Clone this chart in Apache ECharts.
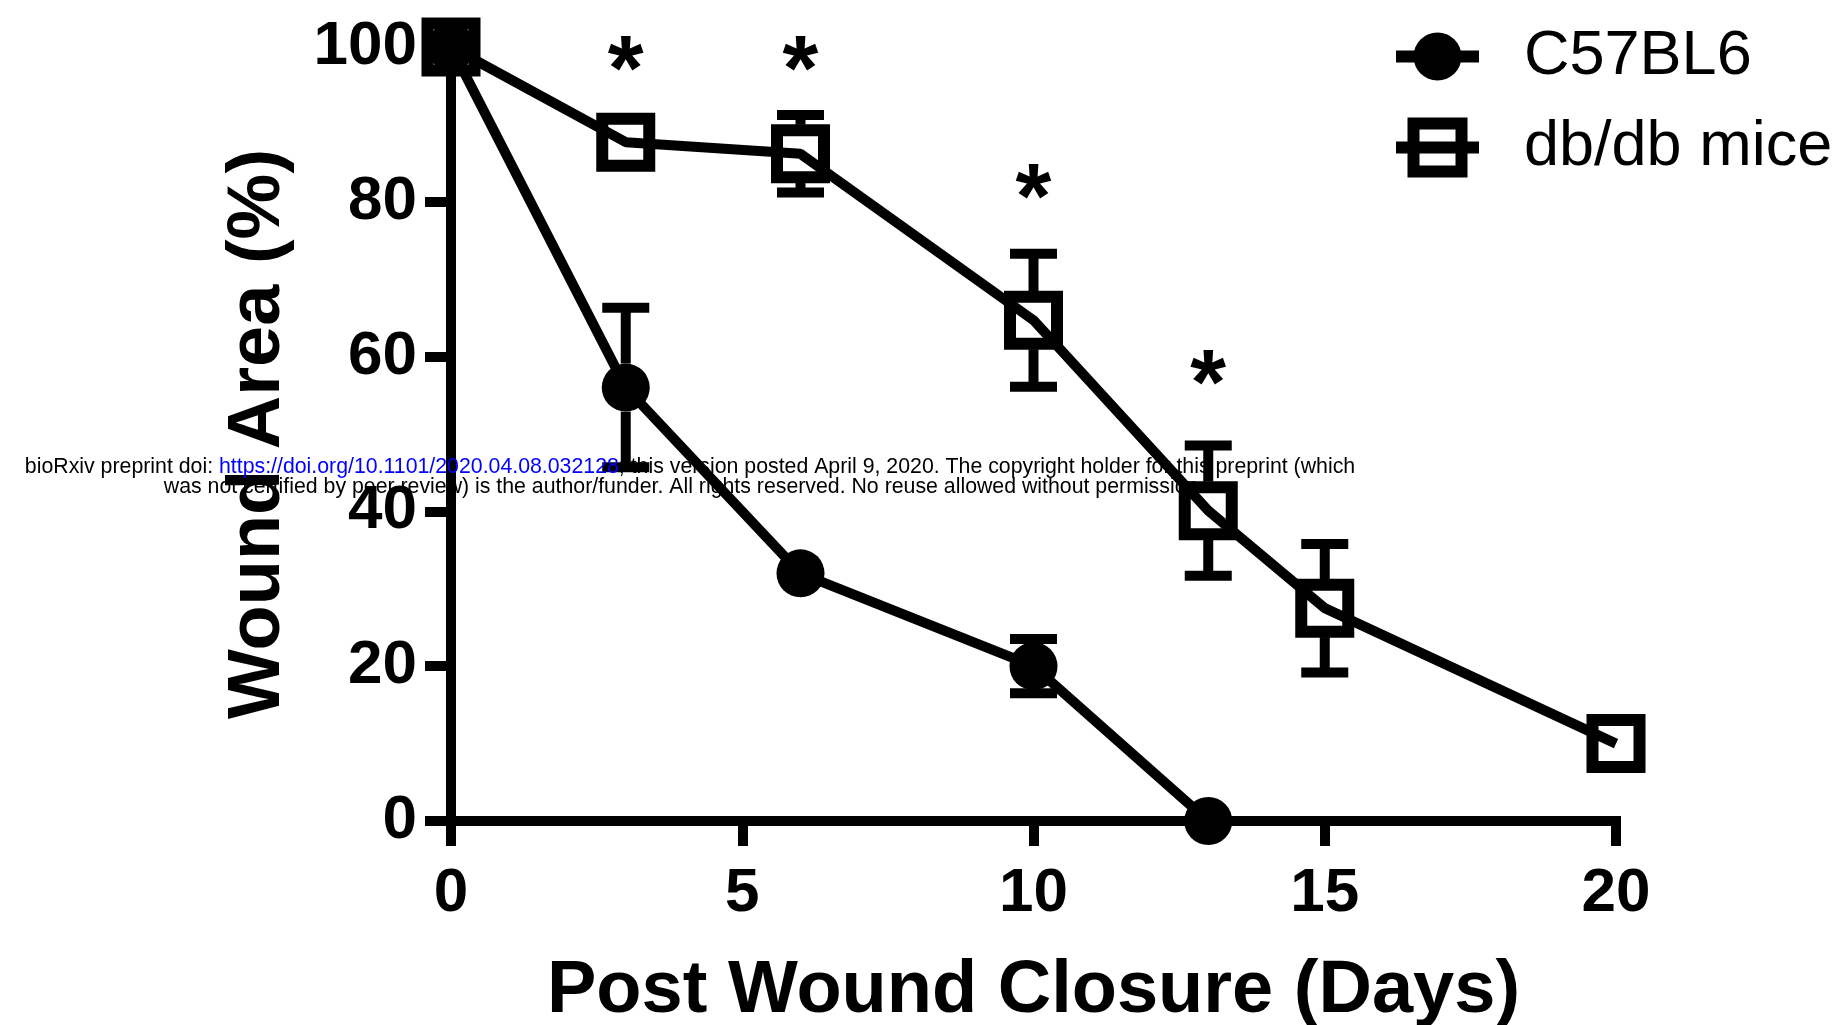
<!DOCTYPE html>
<html>
<head>
<meta charset="utf-8">
<script src="https://cdn.jsdelivr.net/npm/echarts@6/dist/echarts.min.js"></script>
<style>
  html, body { margin: 0; padding: 0; background: #fff; }
  #chart { width: 1845px; height: 1025px; }
</style>
</head>
<body>
<div id="chart"></div>
<script>
// Wound area over time (mean ± SEM)
const c57Days = [0, 3, 6, 10, 13];
const c57Mean = [100, 56, 32, 20, 0];
const c57Err  = [0, 10.3, 3.3, 3.5, 0];

const dbDays = [0, 3, 6, 10, 13, 15, 20];
const dbMean = [100, 87.7, 86.2, 64.7, 40.1, 27.5, 10];
const dbErr  = [0, 1.5, 5, 8.6, 8.4, 8.3, 0];

// significance markers (day, height of the asterisk)
const sigDays = [3, 6, 10, 13];
const sigY    = [99, 99, 82.5, 58.5];

const xTicks = [0, 5, 10, 15, 20];
const yTicks = [0, 20, 40, 60, 80, 100];

const FONT = '"Liberation Sans", Arial, Helvetica, sans-serif';
const INK = '#000';
const STROKE = 10;

const c57Data = c57Days.map((d, i) => [d, c57Mean[i]]);
const dbData = dbDays.map((d, i) => [d, dbMean[i]]);
const c57ErrData = c57Days.map((d, i) => [d, c57Mean[i], c57Err[i]]);
const dbErrData = dbDays.map((d, i) => [d, dbMean[i], dbErr[i]]);
const sigData = sigDays.map((d, i) => [d, sigY[i]]);

// whiskers start at the edge of the symbol so they never cross it
function errorBars(halfSym) {
  return function (params, api) {
    const x = api.value(0), m = api.value(1), e = api.value(2);
    const c = api.coord([x, m]);
    const hi = api.coord([x, m + e]);
    const lo = api.coord([x, m - e]);
    const cap = 23.5;
    const style = { stroke: INK, lineWidth: STROKE, lineCap: 'butt' };
    const children = [];
    if (c[1] - hi[1] > halfSym + 2) {
      children.push({ type: 'line', shape: { x1: c[0], y1: c[1] - halfSym, x2: c[0], y2: hi[1] }, style });
      children.push({ type: 'line', shape: { x1: c[0] - cap, y1: hi[1], x2: c[0] + cap, y2: hi[1] }, style });
    }
    if (lo[1] - c[1] > halfSym + 2) {
      children.push({ type: 'line', shape: { x1: c[0], y1: c[1] + halfSym, x2: c[0], y2: lo[1] }, style });
      children.push({ type: 'line', shape: { x1: c[0] - cap, y1: lo[1], x2: c[0] + cap, y2: lo[1] }, style });
    }
    return { type: 'group', children };
  };
}

const chart = echarts.init(document.getElementById('chart'), null, { renderer: 'canvas' });

chart.setOption({
  animation: false,
  backgroundColor: '#fff',
  grid: { left: 451, right: 229, top: 47, bottom: 204, containLabel: false, outerBoundsMode: 'none' },
  legend: {
    orient: 'vertical',
    left: 1385,
    top: 20,
    itemWidth: 83,
    itemHeight: 60,
    itemGap: 28,
    selectedMode: false,
    data: ['C57BL6', 'db/db mice'],
    lineStyle: { width: 12, color: INK },
    itemStyle: { borderWidth: 12 },
    textStyle: { fontFamily: FONT, fontSize: 63, color: INK, padding: [0, 0, 0, 40], lineHeight: 62 }
  },
  xAxis: {
    type: 'value',
    min: 0, max: 20, interval: 5,
    name: 'Post Wound Closure (Days)',
    nameLocation: 'middle',
    nameGap: 134,
    nameTextStyle: { fontFamily: FONT, fontSize: 74, fontWeight: 'bold', color: INK },
    axisLine: { show: true, lineStyle: { color: INK, width: STROKE, cap: 'square' } },
    axisTick: { show: true, length: 25, lineStyle: { color: INK, width: STROKE } },
    axisLabel: {
      margin: 42, fontFamily: FONT, fontSize: 62, fontWeight: 'bold', color: INK,
      customValues: xTicks
    },
    splitLine: { show: false }
  },
  yAxis: {
    type: 'value',
    min: 0, max: 100, interval: 20,
    name: 'Wound Area (%)',
    nameLocation: 'middle',
    nameGap: 155,
    nameTextStyle: { fontFamily: FONT, fontSize: 74, fontWeight: 'bold', color: INK },
    axisLine: { show: true, lineStyle: { color: INK, width: STROKE, cap: 'square' } },
    axisTick: { show: true, length: 26, lineStyle: { color: INK, width: STROKE } },
    axisLabel: {
      margin: 34, fontFamily: FONT, fontSize: 62, fontWeight: 'bold', color: INK,
      customValues: yTicks
    },
    splitLine: { show: false }
  },
  series: [
    {
      type: 'custom',
      name: 'c57-err',
      renderItem: errorBars(24),
      data: c57ErrData,
      z: 1,
      silent: true
    },
    {
      type: 'custom',
      name: 'db-err',
      renderItem: errorBars(29),
      data: dbErrData,
      z: 1,
      silent: true
    },
    {
      name: 'C57BL6',
      type: 'line',
      data: c57Data,
      symbol: 'circle',
      symbolSize: 48,
      showAllSymbol: true,
      clip: false,
      lineStyle: { color: INK, width: STROKE },
      itemStyle: { color: INK, borderWidth: 0 },
      emphasis: { disabled: true },
      z: 3
    },
    {
      name: 'db/db mice',
      type: 'line',
      data: dbData,
      symbol: 'rect',
      symbolSize: 47,
      showAllSymbol: true,
      clip: false,
      lineStyle: { color: INK, width: STROKE },
      itemStyle: { color: 'transparent', borderColor: INK, borderWidth: 12 },
      emphasis: { disabled: true },
      z: 4
    },
    {
      type: 'scatter',
      name: 'sig',
      data: sigData,
      symbolSize: 1,
      itemStyle: { color: 'transparent', opacity: 1 },
      silent: true,
      label: {
        show: true,
        position: 'inside',
        formatter: '*',
        offset: [0, 20],
        fontFamily: FONT,
        fontSize: 92,
        fontWeight: 'bold',
        color: INK,
        opacity: 1
      },
      z: 5
    }
  ],
  graphic: [
    {
      type: 'text',
      x: 690, y: 467, z: 100,
      style: {
        text: '{t|bioRxiv preprint doi: }{l|https://doi.org/10.1101/2020.04.08.032128}{t|; this version posted April 9, 2020. The copyright holder for this preprint (which}',
        align: 'center', verticalAlign: 'middle',
        font: '21.3px ' + FONT,
        rich: {
          t: { fill: '#000', font: '21.3px ' + FONT },
          l: { fill: '#0000ff', font: '21.3px ' + FONT }
        }
      }
    },
    {
      type: 'text',
      x: 684, y: 487, z: 100,
      style: {
        text: 'was not certified by peer review) is the author/funder. All rights reserved. No reuse allowed without permission.',
        align: 'center', verticalAlign: 'middle',
        font: '21.3px ' + FONT,
        fill: '#000'
      }
    }
  ]
});
</script>
</body>
</html>
